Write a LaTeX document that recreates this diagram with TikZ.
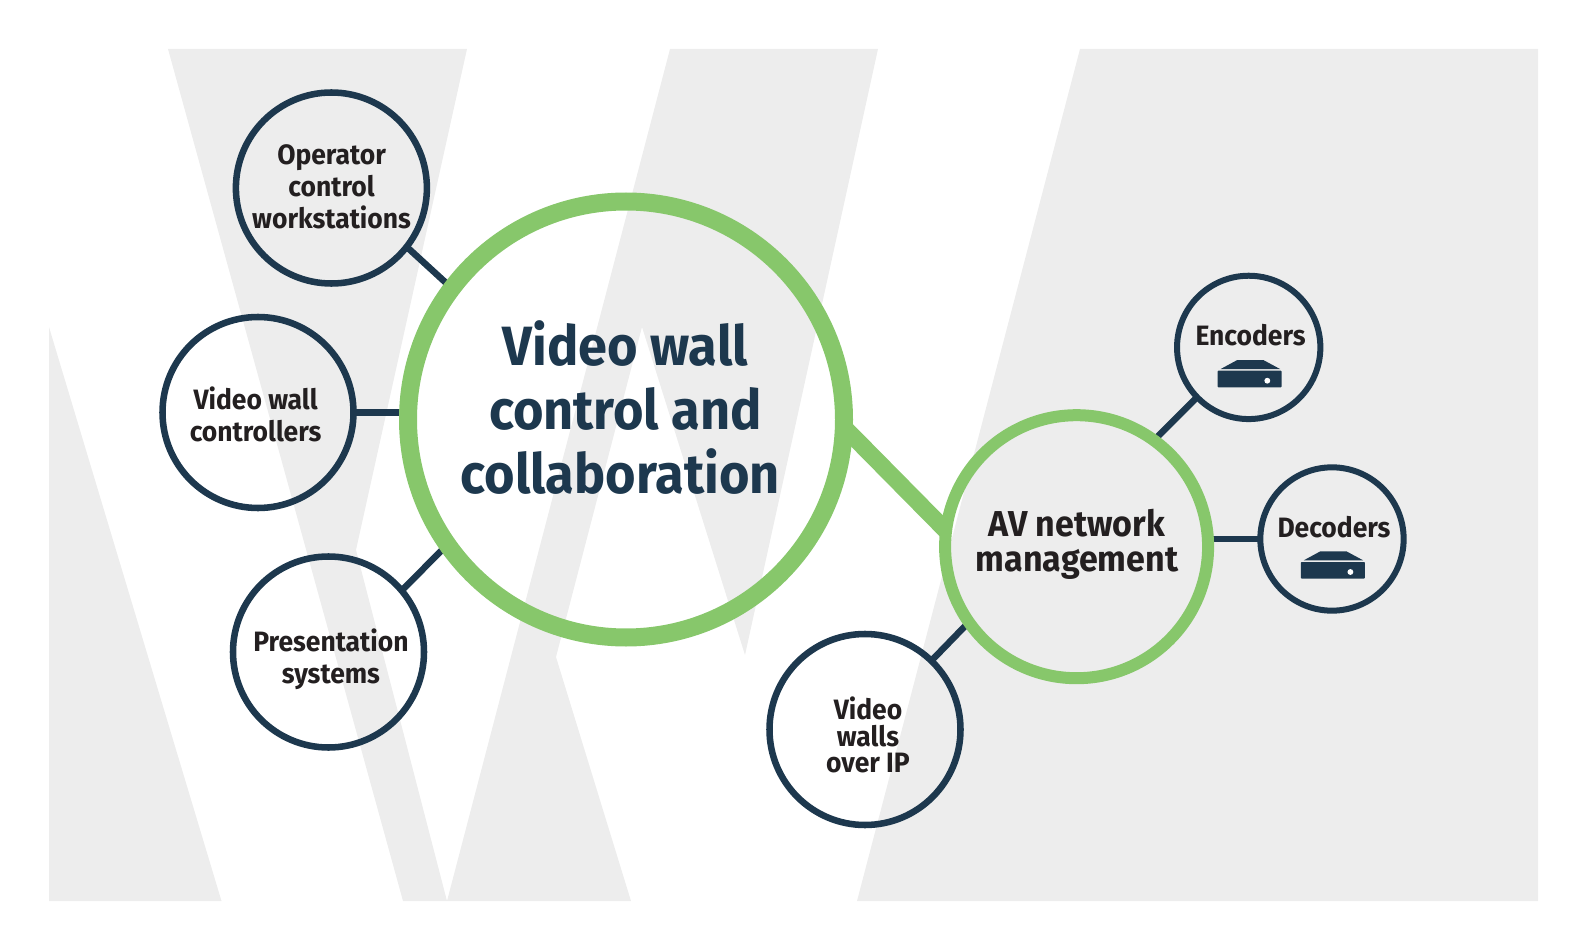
\documentclass[tikz,border=0pt]{standalone}
\usepackage{fontspec}
\setmainfont{Fira Sans}
\newfontfamily\labelfont[FakeStretch=0.945]{Fira Sans}
\usetikzlibrary{backgrounds}
\definecolor{navy}{RGB}{29,56,78}
\definecolor{leaf}{RGB}{135,199,107}
\definecolor{ink}{RGB}{35,31,32}
\definecolor{wash}{RGB}{237,237,237}
\tikzset{
  ring/.style={circle,draw=navy,line width=4.9pt,outer sep=0pt,inner sep=0pt},
  bigspoke/.style={ring,minimum size=143.25pt},
  smallspoke/.style={ring,line width=4.5pt,minimum size=107.5pt},
  hubA/.style={circle,draw=leaf,line width=13.5pt,outer sep=0pt,inner sep=0pt,minimum size=327pt},
  hubB/.style={circle,draw=leaf,line width=9pt,outer sep=0pt,inner sep=0pt,minimum size=197.25pt},
  link/.style={draw=navy,line width=4.9pt},
  biglink/.style={draw=leaf,line width=12.75pt},
  smalltext/.style={text=ink,align=center,inner sep=0pt,font=\labelfont\fontsize{21}{23.8}\selectfont\bfseries},
  pic3text/.style={smalltext,font=\labelfont\fontsize{21}{19.9}\selectfont\bfseries},
  hubAtext/.style={text=navy,align=center,inner sep=0pt,font=\labelfont\fontsize{41.5}{48}\selectfont\bfseries},
  hubBtext/.style={text=ink,align=center,inner sep=0pt,font=\labelfont\fontsize{27}{26.6}\selectfont\bfseries},
  boxicon/.pic={
    \fill[navy,rounded corners=0.6pt] (0,10.7)--(64,10.7)--(64,27.3)--(0,27.3)--cycle;
    \fill[navy] (3,9)--(19.6,0)--(45.6,0)--(62.3,9)--cycle;
    \fill[white] (49.6,20.7) circle (2.2pt);
  }
}
\begin{document}
\begin{tikzpicture}[x=0.75pt,y=-0.75pt]
\useasboundingbox (0,0) rectangle (1596,952);
% backdrop stripes
\begin{scope}[on background layer]
\fill[wash] (49,327)--(221.5,901)--(49,901)--cycle;
\fill[wash] (168,49)--(467,49)--(356,550)--(447,901)--(403,901)--cycle;
\fill[wash] (670,49)--(878,49)--(745,655)--(642,327)--(556,657)--(631,901)--(447,901)--cycle;
\fill[wash] (1080,49)--(1538,49)--(1538,901)--(857,901)--cycle;
\end{scope}
% the two hubs
\node[hubA] (wall) at (626,419.5){};
\node[hubB] (av) at (1076.6,546.7){};
% left group
\node[bigspoke] (oper) at (331.4,188){};
\node[bigspoke] (ctrl) at (258,412.5){};
\node[bigspoke] (pres) at (328.5,652){};
% right group
\node[bigspoke] (ipwall) at (865,729.5){};
\node[smallspoke] (enc) at (1248.7,347.4){};
\node[smallspoke] (dec) at (1332,539){};
% links go under the rings
\begin{scope}[on background layer]
\draw[link] (oper.-38)--(wall.143.2);
\draw[link] (ctrl.east)--(ctrl.east-|wall.west);
\draw[link] (pres.40.7)--(wall.215.5);
\draw[biglink] (wall.-2.7)--(av.173.5);
\draw[link] (enc.224)--(av.54);
\draw[link] (dec.west)--(dec.west-|av.east);
\draw[link] (ipwall.46)--(av.215.3);
\end{scope}
% labels
\node[hubAtext] (walltxt) at (625.5,407.5){Video wall\\control and\\collaboration\kern8pt};
\node[hubBtext] (avtxt) at (1077,544.5){AV network\\management};
\node[smalltext] (opertxt) at (331.6,187){Operator\\control\\workstations};
\node[smalltext] (ctrltxt) at (255.6,414.5){Video wall\\controllers};
\node[smalltext] (prestxt) at (331,659){Presentation\\systems};
\node[pic3text] (ipwalltxt) at (868,735){Video\\walls\\over IP};
\node[smalltext] (enctxt) at (1250.6,335){Encoders};
\node[smalltext] (dectxt) at (1334,527){Decoders};
% device icons
\pic at (1217.7,360) {boxicon};
\pic at (1300.8,551.3) {boxicon};
\end{tikzpicture}
\end{document}
